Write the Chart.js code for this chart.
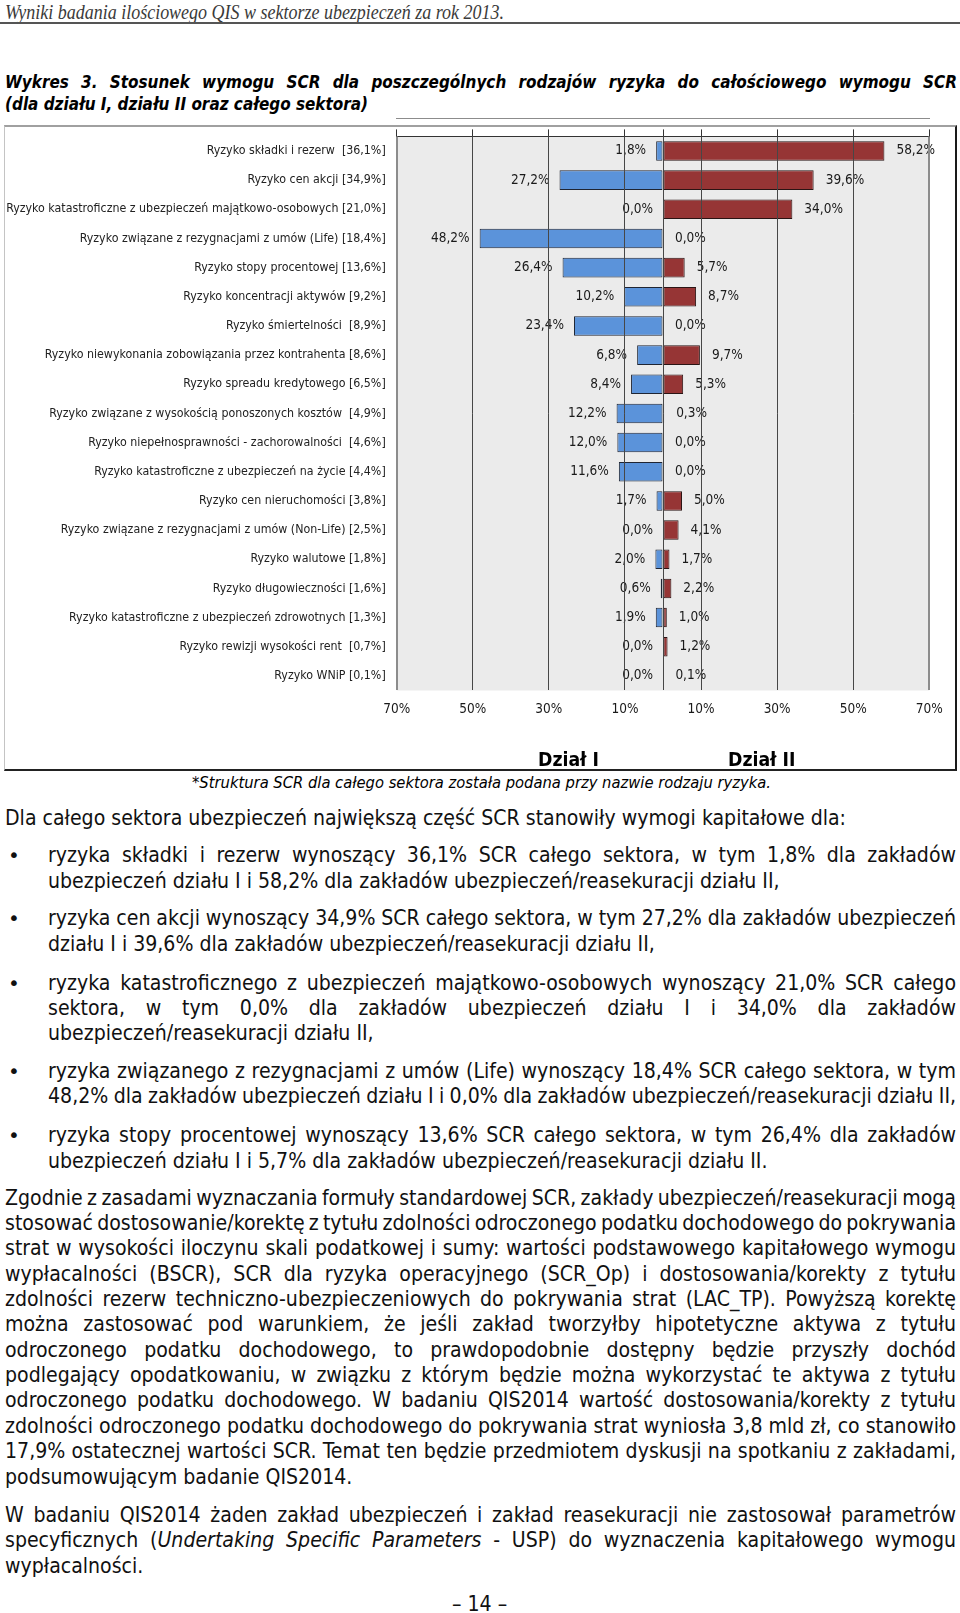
<!DOCTYPE html>
<html lang="pl">
<head>
<meta charset="utf-8">
<title>Wykres 3 – struktura SCR</title>
<script src="https://cdn.jsdelivr.net/npm/chart.js@4.4.1/dist/chart.umd.min.js"></script>
<style>
  html, body { margin: 0; padding: 0; background: #fff; }
  body { width: 960px; height: 1613px; position: relative; overflow: hidden;
         font-family: "DejaVu Sans Condensed", "DejaVu Sans", sans-serif; color: #111; }
  .ln { position: absolute; white-space: nowrap; transform-origin: 0 50%; }
  .head { font-family: "Liberation Serif", serif; font-style: italic; font-size: 20px; line-height: 22px; color: #3a3a3a; }
  .title { font-weight: bold; font-style: italic; font-size: 17.5px; line-height: 20px; color: #000; }
  .body { font-size: 21px; line-height: 24px; }
  .note { font-style: italic; font-size: 15px; line-height: 18px; color: #000; }
  .dz { font-weight: bold; font-size: 19px; line-height: 22px; color: #000; }
  .dot { position: absolute; font-family: "DejaVu Sans", sans-serif; font-size: 20px; line-height: 20px; }
  #rule { position: absolute; left: 0; top: 22px; width: 960px; height: 2px; background: #555; }
  #box { position: absolute; left: 4px; top: 125px; width: 953px; height: 646px; box-sizing: border-box;
         border-top: 2px solid #a0a0a0; border-left: 1px solid #c4c4c4;
         border-right: 2px solid #1a1a1a; border-bottom: 2px solid #222; background: #fff; }
  #chart { position: absolute; left: 5px; top: 118px; }
</style>
</head>
<body>

<div class="ln head" id="headRef" data-x="5" data-y="12.3" data-r="504">Wyniki badania ilościowego QIS w sektorze ubezpieczeń za rok 2013.</div>
<div id="rule"></div>

<div class="ln title" data-x="5" data-y="82.3" data-r="957" data-j="1">Wykres 3. Stosunek wymogu SCR dla poszczególnych rodzajów ryzyka do całościowego wymogu SCR</div>
<div class="ln title" id="titleRef" data-x="5" data-y="104" data-r="368">(dla działu I, działu II oraz całego sektora)</div>

<div id="box"></div>
<canvas id="chart" width="950" height="645"></canvas>
<div class="ln dz" id="dzRef" data-cx="568" data-y="759" data-x="537.5" data-r="598.5">Dział I</div>
<div class="ln dz" data-cx="762" data-y="759">Dział II</div>
<div class="ln note" id="noteRef" data-x="192" data-y="783" data-r="771">*Struktura SCR dla całego sektora została podana przy nazwie rodzaju ryzyka.</div>

<div class="ln body" id="bodyRef" data-x="5" data-y="818" data-r="846">Dla całego sektora ubezpieczeń największą część SCR stanowiły wymogi kapitałowe dla:</div>

<div class="dot" style="left:8px;top:845px">•</div>
<div class="ln body" data-x="48" data-y="855" data-r="956" data-j="1">ryzyka składki i rezerw wynoszący 36,1% SCR całego sektora, w tym 1,8% dla zakładów</div>
<div class="ln body" data-x="48" data-y="881">ubezpieczeń działu I i 58,2% dla zakładów ubezpieczeń/reasekuracji działu II,</div>

<div class="dot" style="left:8px;top:908px">•</div>
<div class="ln body" data-x="48" data-y="918" data-r="956" data-j="1">ryzyka cen akcji wynoszący 34,9% SCR całego sektora, w tym 27,2% dla zakładów ubezpieczeń</div>
<div class="ln body" data-x="48" data-y="943.5">działu I i 39,6% dla zakładów ubezpieczeń/reasekuracji działu II,</div>

<div class="dot" style="left:8px;top:972.6px">•</div>
<div class="ln body" data-x="48" data-y="982.6" data-r="956" data-j="1">ryzyka katastroficznego z ubezpieczeń majątkowo-osobowych wynoszący 21,0% SCR całego</div>
<div class="ln body" data-x="48" data-y="1007.5" data-r="956" data-j="1">sektora, w tym 0,0% dla zakładów ubezpieczeń działu I i 34,0% dla zakładów</div>
<div class="ln body" data-x="48" data-y="1033">ubezpieczeń/reasekuracji działu II,</div>

<div class="dot" style="left:8px;top:1061px">•</div>
<div class="ln body" data-x="48" data-y="1071" data-r="956" data-j="1">ryzyka związanego z rezygnacjami z umów (Life) wynoszący 18,4% SCR całego sektora, w tym</div>
<div class="ln body" data-x="48" data-y="1096" data-r="956" data-j="1">48,2% dla zakładów ubezpieczeń działu I i 0,0% dla zakładów ubezpieczeń/reasekuracji działu II,</div>

<div class="dot" style="left:8px;top:1125px">•</div>
<div class="ln body" data-x="48" data-y="1135" data-r="956" data-j="1">ryzyka stopy procentowej wynoszący 13,6% SCR całego sektora, w tym 26,4% dla zakładów</div>
<div class="ln body" data-x="48" data-y="1160.6">ubezpieczeń działu I i 5,7% dla zakładów ubezpieczeń/reasekuracji działu II.</div>

<div class="ln body" data-x="5" data-y="1197.6" data-r="956" data-j="1">Zgodnie z zasadami wyznaczania formuły standardowej SCR, zakłady ubezpieczeń/reasekuracji mogą</div>
<div class="ln body" data-x="5" data-y="1223" data-r="956" data-j="1">stosować dostosowanie/korektę z tytułu zdolności odroczonego podatku dochodowego do pokrywania</div>
<div class="ln body" data-x="5" data-y="1248.3" data-r="956" data-j="1">strat w wysokości iloczynu skali podatkowej i sumy: wartości podstawowego kapitałowego wymogu</div>
<div class="ln body" data-x="5" data-y="1273.6" data-r="956" data-j="1">wypłacalności (BSCR), SCR dla ryzyka operacyjnego (SCR_Op) i dostosowania/korekty z tytułu</div>
<div class="ln body" data-x="5" data-y="1299" data-r="956" data-j="1">zdolności rezerw techniczno-ubezpieczeniowych do pokrywania strat (LAC_TP). Powyższą korektę</div>
<div class="ln body" data-x="5" data-y="1324.3" data-r="956" data-j="1">można zastosować pod warunkiem, że jeśli zakład tworzyłby hipotetyczne aktywa z tytułu</div>
<div class="ln body" data-x="5" data-y="1349.7" data-r="956" data-j="1">odroczonego podatku dochodowego, to prawdopodobnie dostępny będzie przyszły dochód</div>
<div class="ln body" data-x="5" data-y="1375" data-r="956" data-j="1">podlegający opodatkowaniu, w związku z którym będzie można wykorzystać te aktywa z tytułu</div>
<div class="ln body" data-x="5" data-y="1400.4" data-r="956" data-j="1">odroczonego podatku dochodowego. W badaniu QIS2014 wartość dostosowania/korekty z tytułu</div>
<div class="ln body" data-x="5" data-y="1425.7" data-r="956" data-j="1">zdolności odroczonego podatku dochodowego do pokrywania strat wyniosła 3,8 mld zł, co stanowiło</div>
<div class="ln body" data-x="5" data-y="1451" data-r="956" data-j="1">17,9% ostatecznej wartości SCR. Temat ten będzie przedmiotem dyskusji na spotkaniu z zakładami,</div>
<div class="ln body" data-x="5" data-y="1476.5">podsumowującym badanie QIS2014.</div>

<div class="ln body" data-x="5" data-y="1514.5" data-r="956" data-j="1">W badaniu QIS2014 żaden zakład ubezpieczeń i zakład reasekuracji nie zastosował parametrów</div>
<div class="ln body" data-x="5" data-y="1540" data-r="956" data-j="1">specyficznych (<i>Undertaking Specific Parameters</i> - USP) do wyznaczenia kapitałowego wymogu</div>
<div class="ln body" data-x="5" data-y="1566">wypłacalności.</div>

<div class="ln body" data-cx="480" data-y="1604">– 14 –</div>

<script>
// ---------- DATA ----------
const categories = [
  "Ryzyko składki i rezerw ",
  "Ryzyko cen akcji",
  "Ryzyko katastroficzne z ubezpieczeń majątkowo-osobowych",
  "Ryzyko związane z rezygnacjami z umów (Life)",
  "Ryzyko stopy procentowej",
  "Ryzyko koncentracji aktywów",
  "Ryzyko śmiertelności ",
  "Ryzyko niewykonania zobowiązania przez kontrahenta",
  "Ryzyko spreadu kredytowego",
  "Ryzyko związane z wysokością ponoszonych kosztów ",
  "Ryzyko niepełnosprawności - zachorowalności ",
  "Ryzyko katastroficzne z ubezpieczeń na życie",
  "Ryzyko cen nieruchomości",
  "Ryzyko związane z rezygnacjami z umów (Non-Life)",
  "Ryzyko walutowe",
  "Ryzyko długowieczności",
  "Ryzyko katastroficzne z ubezpieczeń zdrowotnych",
  "Ryzyko rewizji wysokości rent ",
  "Ryzyko WNiP"
];
// udział w SCR całego sektora (%)
const sectorShare = [36.1, 34.9, 21.0, 18.4, 13.6, 9.2, 8.9, 8.6, 6.5, 4.9, 4.6, 4.4, 3.8, 2.5, 1.8, 1.6, 1.3, 0.7, 0.1];
// Dział I (%)
const dzialI = [1.8, 27.2, 0.0, 48.2, 26.4, 10.2, 23.4, 6.8, 8.4, 12.2, 12.0, 11.6, 1.7, 0.0, 2.0, 0.6, 1.9, 0.0, 0.0];
// Dział II (%)
const dzialII = [58.2, 39.6, 34.0, 0.0, 5.7, 8.7, 0.0, 9.7, 5.3, 0.3, 0.0, 0.0, 5.0, 4.1, 1.7, 2.2, 1.0, 1.2, 0.1];
const axisTicks = [-70, -50, -30, -10, 0, 10, 30, 50, 70];

// ---------- TEXT LAYOUT ----------
// each line: scaled horizontally like the (stretched) scan, justified lines get word spacing
function fitGroup(cls, refId) {
  const ref = document.getElementById(refId);
  const sx = (ref.dataset.r - ref.dataset.x) / ref.getBoundingClientRect().width;
  document.querySelectorAll(".ln." + cls).forEach(el => {
    const d = el.dataset;
    const lh = parseFloat(getComputedStyle(el).lineHeight);
    el.style.top = (d.y - lh / 2) + "px";
    if (d.j) {
      const n = (el.textContent.match(/ /g) || []).length;
      const w = el.getBoundingClientRect().width;
      el.style.wordSpacing = ((d.r - d.x) / sx - w) / n + "px";
    }
    const w = el.getBoundingClientRect().width;
    el.style.left = (d.cx ? d.cx - w * sx / 2 : +d.x) + "px";
    el.style.transform = "scaleX(" + sx + ")";
  });
}
fitGroup("head", "headRef");
fitGroup("title", "titleRef");
fitGroup("dz", "dzRef");
fitGroup("note", "noteRef");
fitGroup("body", "bodyRef");

// ---------- CHART ----------
const FONT = '"DejaVu Sans Condensed", "DejaVu Sans", sans-serif';
const fmt = v => v.toFixed(1).replace(".", ",");
const isEdge = c => c.tick && Math.abs(c.tick.value) === 70;
const setTicks = s => { s.ticks = axisTicks.map(v => ({ value: v })); };

const plotBg = {
  id: "plotBg",
  beforeDraw(chart) {
    const a = chart.chartArea, c = chart.ctx;
    c.save();
    c.fillStyle = "#ebebeb";
    c.fillRect(a.left, a.top, a.right - a.left, a.bottom - a.top);
    c.restore();
  }
};

const barLabels = {
  id: "barLabels",
  afterDatasetsDraw(chart) {
    const c = chart.ctx;
    c.save();
    c.font = "13.5px " + FONT;
    c.fillStyle = "#1a1a1a";
    c.textBaseline = "middle";
    chart.data.datasets.forEach((ds, di) => {
      chart.getDatasetMeta(di).data.forEach((bar, i) => {
        const txt = fmt(Math.abs(ds.data[i])) + "%";
        if (di === 0) { c.textAlign = "right"; c.fillText(txt, bar.x - 10, bar.y); }
        else { c.textAlign = "left"; c.fillText(txt, bar.x + 12, bar.y); }
      });
    });
    c.restore();
  }
};

new Chart(document.getElementById("chart"), {
  type: "bar",
  data: {
    labels: categories.map((c, i) => c + " [" + fmt(sectorShare[i]) + "%]"),
    datasets: [
      { label: "Dział I", data: dzialI.map(v => -v), backgroundColor: "#5b93da",
        borderColor: "#1f2533", borderWidth: 1, borderSkipped: false },
      { label: "Dział II", data: dzialII, backgroundColor: "#963535",
        borderColor: "#2a1414", borderWidth: 1, borderSkipped: false }
    ]
  },
  options: {
    indexAxis: "y",
    responsive: false,
    animation: false,
    events: [],
    barPercentage: 1,
    categoryPercentage: 0.67,
    layout: { padding: { top: 8, right: 25.7, bottom: 0, left: 0 } },
    plugins: { legend: { display: false }, tooltip: { enabled: false } },
    scales: {
      x: {
        type: "linear", min: -70, max: 70, stacked: false, position: "bottom",
        afterBuildTicks: setTicks,
        afterFit: s => { s.height = 72.5; },
        grid: { z: 1, drawTicks: false,
                color: c => isEdge(c) ? "#8c8c8c" : "#474747",
                lineWidth: c => isEdge(c) ? 2 : 1 },
        border: { color: "#8c8c8c", width: 2 },
        ticks: { autoSkip: false, maxRotation: 0, padding: 11, color: "#1a1a1a",
                 font: { family: FONT, size: 13.5 },
                 callback: v => v === 0 ? "" : Math.abs(v) + "%" }
      },
      x2: {
        type: "linear", min: -70, max: 70, position: "top",
        afterBuildTicks: setTicks,
        afterFit: s => { s.height = 7; },
        grid: { drawOnChartArea: false, drawTicks: true, tickLength: 7, color: "#333" },
        border: { color: "#333", width: 1 },
        ticks: { display: false }
      },
      y: {
        type: "category", stacked: true, position: "left",
        afterFit: s => { s.width = 391.7; },
        grid: { display: false, drawTicks: false },
        border: { display: false },
        ticks: { autoSkip: false, padding: 11, color: "#222", font: { family: FONT, size: 12.3 } }
      }
    }
  },
  plugins: [plotBg, barLabels]
});
</script>
</body>
</html>
